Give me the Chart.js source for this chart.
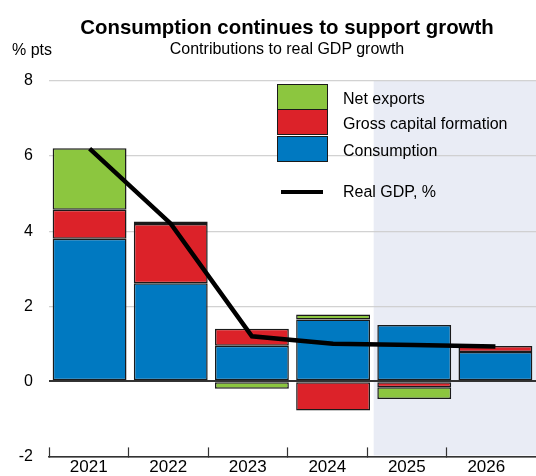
<!DOCTYPE html>
<html>
<head>
<meta charset="utf-8">
<script src="https://cdn.jsdelivr.net/npm/chart.js@4"></script>
<style>
  html, body { margin: 0; padding: 0; background: #fff; overflow: hidden; }
  body { width: 536px; height: 476px; position: relative; font-family: "Liberation Sans", Arial, sans-serif; color: #000; }
  #wrap { position: absolute; left: 0; top: 0; width: 536px; height: 476px; overflow: hidden; }
  .txt { position: absolute; white-space: nowrap; }
  #title { left: 287px; top: 16px; transform: translateX(-50%); font-size: 20.4px; font-weight: bold; }
  #subtitle { left: 287px; top: 40px; transform: translateX(-50%); font-size: 16px; }
  #unit { left: 12px; top: 41px; font-size: 16px; }
  .sw { position: absolute; left: 277px; width: 49px; border: 1.5px solid #1a1a1a; }
  .lg { position: absolute; left: 343px; font-size: 16px; line-height: 18px; }
</style>
</head>
<body>
<div id="wrap"><canvas id="chart" width="536" height="482"></canvas></div>
<div class="txt" id="title">Consumption continues to support growth</div>
<div class="txt" id="subtitle">Contributions to real GDP growth</div>
<div class="txt" id="unit">% pts</div>
<div id="legend"></div>
<script>
document.addEventListener('DOMContentLoaded', function() {
    const years = ['2021', '2022', '2023', '2024', '2025', '2026'];
    const consumption = [3.80, 2.61, 0.95, 1.65, 1.50, 0.78];
    const capitalFormation = [0.77, 1.58, 0.45, -0.78, -0.16, 0.16];
    const netExports = [1.64, 0.07, -0.20, 0.13, -0.31, 0.0];
    const realGdp = [6.2, 4.2, 1.2, 1.0, 0.97, 0.93];
    const yTicks = [-2, 0, 2, 4, 6, 8];

    const colours = {
        consumption: '#0079c1',
        capital: '#dc2229',
        exports: '#8cc63f',
        gdp: '#000000',
        shade: '#e9ecf5'
    };

    // legend is plain html laid over the plot
    const legend = document.getElementById('legend');
    const legendItems = [
        { label: 'Net exports', colour: colours.exports, top: 84 },
        { label: 'Gross capital formation', colour: colours.capital, top: 109 },
        { label: 'Consumption', colour: colours.consumption, top: 136 }
    ];
    legendItems.forEach(item => {
        const sw = document.createElement('div');
        sw.className = 'sw';
        sw.style.top = item.top + 'px';
        sw.style.height = '24px';
        sw.style.background = item.colour;
        legend.appendChild(sw);
        const lab = document.createElement('div');
        lab.className = 'lg';
        lab.style.top = (item.top + 6) + 'px';
        lab.textContent = item.label;
        legend.appendChild(lab);
    });
    const gdpSw = document.createElement('div');
    gdpSw.style.cssText = 'position:absolute;left:281px;top:190px;width:42px;height:4px;background:#000';
    legend.appendChild(gdpSw);
    const gdpLab = document.createElement('div');
    gdpLab.className = 'lg';
    gdpLab.style.top = '183px';
    gdpLab.textContent = 'Real GDP, %';
    legend.appendChild(gdpLab);

    const forecastShade = {
        id: 'forecastShade',
        beforeDraw(chart) {
            const area = chart.chartArea;
            const x0 = chart.scales.x.getPixelForValue(3.5);
            const ctx = chart.ctx;
            ctx.save();
            ctx.fillStyle = colours.shade;
            ctx.fillRect(x0, area.top, area.right - x0, area.bottom - area.top - 1);
            ctx.restore();
        }
    };

    const barStyle = {
        type: 'bar',
        stack: 'parts',
        borderColor: '#1a1a1a',
        borderWidth: 1.5,
        borderSkipped: false,
        barPercentage: 0.91,
        categoryPercentage: 1,
        order: 1,
        xAxisID: 'x'
    };

    new Chart(document.getElementById('chart'), {
        data: {
            labels: years,
            datasets: [
                {
                    type: 'line',
                    label: 'Real GDP, %',
                    data: realGdp,
                    borderColor: colours.gdp,
                    borderWidth: 4.5,
                    pointRadius: 0,
                    tension: 0,
                    stack: 'gdp',
                    order: 0,
                    xAxisID: 'x'
                },
                Object.assign({ label: 'Consumption', data: consumption, backgroundColor: colours.consumption }, barStyle),
                Object.assign({ label: 'Gross capital formation', data: capitalFormation, backgroundColor: colours.capital }, barStyle),
                Object.assign({ label: 'Net exports', data: netExports, backgroundColor: colours.exports }, barStyle)
            ]
        },
        options: {
            responsive: false,
            animation: false,
            layout: { padding: { top: 81, left: 0, right: 0, bottom: 0 } },
            plugins: {
                legend: { display: false },
                tooltip: { enabled: false },
                title: { display: false }
            },
            scales: {
                x: {
                    type: 'category',
                    display: false,
                    stacked: true,
                    offset: true
                },
                xl: {
                    type: 'linear',
                    position: 'bottom',
                    min: 0,
                    max: 6.125,
                    afterBuildTicks: function(scale) {
                        const t = [];
                        for (let i = 0; i < years.length; i++) {
                            t.push({ value: i });
                            t.push({ value: i + 0.5 });
                        }
                        scale.ticks = t;
                    },
                    afterFit: function(scale) { scale.height = 21; },
                    grid: {
                        drawOnChartArea: false,
                        tickLength: -9,
                        tickWidth: 1.2,
                        tickColor: ctx => (ctx.tick && ctx.tick.value % 1 === 0) ? '#333' : 'rgba(0,0,0,0)'
                    },
                    border: { display: true, color: '#333', width: 1.5 },
                    ticks: {
                        autoSkip: false,
                        maxRotation: 0,
                        padding: 10,
                        color: '#000',
                        font: { family: 'Liberation Sans', size: 17 },
                        callback: function(value) {
                            return value % 1 === 0.5 ? years[Math.floor(value)] : '';
                        }
                    }
                },
                y: {
                    stacked: true,
                    min: -2,
                    max: 8,
                    z: 1,
                    afterBuildTicks: function(scale) {
                        scale.ticks = yTicks.map(v => ({ value: v }));
                    },
                    afterFit: function(scale) { scale.width = 49; },
                    border: { display: false },
                    grid: {
                        drawTicks: false,
                        color: ctx => (ctx.tick && (ctx.tick.value === 0 || ctx.tick.value === -2)) ? '#333' : 'rgba(205,205,205,0.9)',
                        lineWidth: ctx => (ctx.tick && ctx.tick.value === 0) ? 2 : 1.2
                    },
                    ticks: {
                        padding: 16,
                        color: '#000',
                        font: { family: 'Liberation Sans', size: 16 }
                    }
                }
            }
        },
        plugins: [forecastShade]
    });
});
</script>
</body>
</html>
